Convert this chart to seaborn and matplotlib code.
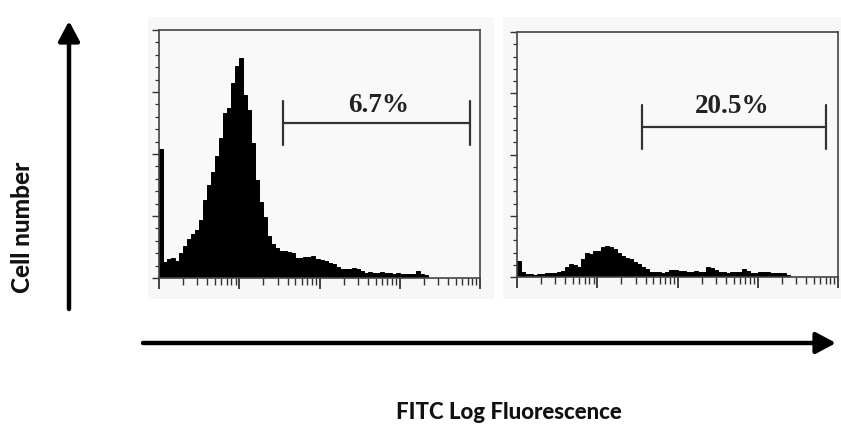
import numpy as np
import pandas as pd
import seaborn as sns
import matplotlib
matplotlib.use("Agg")
import matplotlib.pyplot as plt
from matplotlib.patches import Rectangle

# ---------------- data ----------------
# counts per 0.05-decade channel group, log axis 10^0 .. 10^4
panel1_counts = [129, 16, 19, 20, 17, 25, 32, 39, 44, 48,
                 58, 78, 93, 106, 122, 140, 165, 170, 195, 212,
                 220, 183, 168, 135, 98, 76, 61, 42, 34, 30,
                 27, 27, 26, 25, 20, 20, 21, 21, 22, 19,
                 18, 17, 15, 14, 11, 9, 9, 9, 10, 9,
                 7, 5, 6, 5, 5, 6, 5, 5, 4, 5,
                 4, 4, 4, 4, 7, 4, 3, 0, 0, 0,
                 0, 0, 0, 0, 0, 0, 0, 0, 0, 0]
panel2_counts = [16, 5, 3, 3, 2, 3, 3, 4, 4, 4,
                 5, 6, 10, 13, 12, 10, 18, 24, 23, 26,
                 26, 30, 31, 30, 28, 24, 21, 19, 18, 15,
                 13, 10, 8, 5, 5, 5, 4, 5, 7, 7,
                 6, 6, 5, 5, 6, 5, 5, 10, 9, 7,
                 5, 5, 4, 5, 5, 5, 8, 6, 4, 4,
                 5, 5, 5, 4, 4, 4, 4, 2, 0, 0,
                 0, 0, 0, 0, 0, 0, 0, 0, 0, 0]
decades = [0, 1, 2, 3, 4]
gate_labels = ["6.7%", "20.5%"]
gate_start = [1.55, 1.56]      # log10 units
gate_end = [3.87, 3.85]
gate_level = [155, 152]
gate_half = [22, 22]
label_x = [2.74, 2.68]
label_y = [173, 174]
y_label = "Cell number"
x_label = "FITC Log Fluorescence"

# ---------------- figure ----------------
sns.set_theme(style="white")
plt.rcParams['font.family'] = ['DejaVu Sans']
plt.rcParams['patch.edgecolor'] = 'black'
plt.rcParams['patch.force_edgecolor'] = True

W, H = 841, 431
fig = plt.figure(figsize=(W / 100, H / 100), dpi=100, facecolor="white")

# background overlay in pixel coordinates
bg = fig.add_axes([0, 0, 1, 1], zorder=0)
bg.set_xlim(0, W)
bg.set_ylim(H, 0)
bg.axis("off")
bg.add_patch(Rectangle((148, 18), 346, 282, facecolor="#f7f7f7", edgecolor="none", lw=0))
bg.add_patch(Rectangle((503, 18), 338, 282, facecolor="#f7f7f7", edgecolor="none", lw=0))

# arrows
bg.annotate("", xy=(69, 22), xytext=(69, 310),
            arrowprops=dict(arrowstyle="-|>,head_length=0.6,head_width=0.32",
                            mutation_scale=20, lw=3.2, color="black",
                            shrinkA=0, shrinkB=0))
bg.annotate("", xy=(836, 344), xytext=(143, 344),
            arrowprops=dict(arrowstyle="-|>,head_length=0.6,head_width=0.32",
                            mutation_scale=20, lw=3.2, color="black",
                            shrinkA=0, shrinkB=0))
bg.text(23, 227, y_label, rotation=90, ha="center", va="center",
        fontsize=17.5, fontweight="black", family=["Lato", "DejaVu Sans"],
        color="#111")
bg.text(509, 413, x_label, ha="center", va="center",
        fontsize=16, fontweight="black", family=["Lato", "DejaVu Sans"],
        color="#111")

edges = (np.arange(len(panel1_counts) + 1) * 0.05).tolist()
centers = [(edges[k] + edges[k + 1]) / 2 for k in range(len(panel1_counts))]

panel_rects = [(159, 31, 480, 279), (517, 33, 838, 278)]
minor_x = [d + np.log10(k) for d in decades[:-1] for k in range(2, 10)]

for i, counts in enumerate([panel1_counts, panel2_counts]):
    l, t, r, b = panel_rects[i]
    ax = fig.add_axes([l / W, 1 - b / H, (r - l) / W, (b - t) / H], zorder=1)
    ax.set_facecolor("#f9f9f9")
    df = pd.DataFrame({"log_fluor": centers, "count": counts})
    sns.histplot(data=df, x="log_fluor", weights="count", bins=edges,
                 element="bars", fill=True, color="black", alpha=1,
                 edgecolor="black", linewidth=0.7, shrink=1, ax=ax)
    for p in ax.patches:
        p.set_edgecolor("black")
        p.set_facecolor("black")
        p.set_linewidth(0.7)
    ax.set_xlim(decades[0], decades[-1])
    ax.set_ylim(0, 248)
    ax.set_xlabel("")
    ax.set_ylabel("")
    ax.set_xticks(decades)
    ax.set_xticks(minor_x, minor=True)
    ax.set_yticks(np.linspace(0, 248, 5))
    ax.set_yticks(np.linspace(0, 248, 21), minor=True)
    ax.tick_params(axis="both", which="both", direction="out",
                   labelbottom=False, labelleft=False, color="#333",
                   bottom=True, left=True)
    ax.tick_params(axis="x", which="major", length=8, width=1.3)
    ax.tick_params(axis="x", which="minor", length=5, width=1.0)
    ax.tick_params(axis="y", which="major", length=5, width=1.0)
    ax.tick_params(axis="y", which="minor", length=3, width=0.9)
    for s in ax.spines.values():
        s.set_visible(True)
        s.set_color("#444")
        s.set_linewidth(1.2)

    # gate marker
    ax.plot([gate_start[i], gate_end[i]], [gate_level[i]] * 2,
            color="#333", lw=1.6)
    for gx in (gate_start[i], gate_end[i]):
        ax.plot([gx, gx], [gate_level[i] - gate_half[i], gate_level[i] + gate_half[i]],
                color="#333", lw=1.6)
    ax.text(label_x[i], label_y[i], gate_labels[i], ha="center", va="center",
            fontsize=19.5, fontweight="bold", family=["Liberation Serif", "DejaVu Serif"],
            color="#222")

fig.savefig("out.png", dpi=100, facecolor="white")
